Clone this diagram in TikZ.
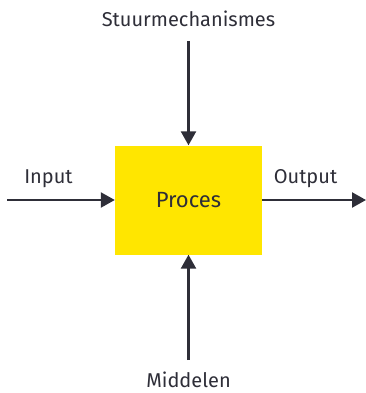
\documentclass[tikz,border=0pt]{standalone}
\usepackage{fontspec}
\setmainfont{Fira Sans}
\usetikzlibrary{arrows.meta}
\definecolor{eygeel}{HTML}{FFE600}
\definecolor{eydonker}{HTML}{2E2E38}
\tikzset{
  procbox/.style={fill=eygeel, minimum width=147pt, minimum height=109pt, inner sep=0pt, text=eydonker, font=\fontsize{22}{24}\selectfont},
  lbl/.style={text=eydonker, inner sep=0pt, font=\fontsize{20}{22}\selectfont},
  pijl/.style={draw=eydonker, line width=2.4pt, -{Triangle[length=14pt,width=15pt]}}
}
\begin{document}
\begin{tikzpicture}[x=1pt,y=-1pt]
\useasboundingbox (0,0) rectangle (366,393);
% het proces
\node[procbox] (proces) at (188.5,200) {Proces};
% stuurmechanismes boven
\node[lbl] (stuur) at (188.5,18.5) {Stuurmechanismes};
\coordinate (stuurtop) at (188.5,41);
\draw[pijl] (stuurtop) -- (proces.north);
% middelen onder
\node[lbl] (middelen) at (188.5,380) {Middelen};
\coordinate (middelenbot) at (188.5,360);
\draw[pijl] (middelenbot) -- (proces.south);
% input links
\node[lbl] (input) at (48.5,179) {Input};
\coordinate (inputstart) at (7,200);
\draw[pijl] (inputstart) -- (proces.west);
% output rechts
\node[lbl] (output) at (305.5,179) {Output};
\coordinate (outputend) at (366,200);
\draw[pijl] (proces.east) -- (outputend);
\end{tikzpicture}
\end{document}
